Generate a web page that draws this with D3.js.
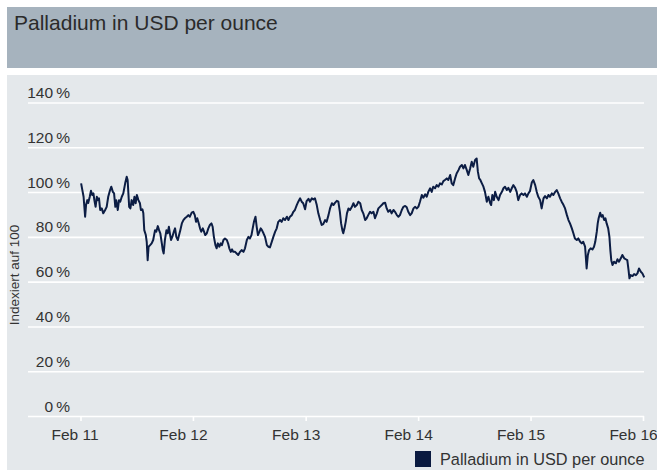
<!DOCTYPE html>
<html>
<head>
<meta charset="utf-8">
<script src="https://cdn.jsdelivr.net/npm/d3@7"></script>
<style>
  body { margin: 0; background: #fff; }
  svg { display: block; font-family: "Liberation Sans", Arial, sans-serif; }
</style>
</head>
<body>
<script>
// Palladium, indexed to 100 (Feb 2011 = 100)
var title = "Palladium in USD per ounce";
var seriesName = "Palladium in USD per ounce";
var yTitle = "Indexiert auf 100";

var yTicks = [0, 20, 40, 60, 80, 100, 120, 140];
var xTickYears = [2011, 2012, 2013, 2014, 2015, 2016];

// days after 1 Feb 2011
var days = [2,6,10,15,18,22,25,30,34,38,42,45,49,53,56,60,64,69,74,80,85,90,96,100,105,109,113,116,121,125,
  129,134,139,145,150,153,158,162,166,171,175,179,183,188,193,196,201,204,207,212,215,218,221,226,231,236,242,246,251,255,
  259,264,267,270,274,279,283,287,291,294,298,303,307,311,316,320,324,329,334,339,345,350,
  355,361,366,371,375,379,384,388,392,397,401,405,410,415,420,425,429,433,438,442,446,451,455,459,464,469,475,479,483,488,
  492,496,502,507,512,518,523,529,534,540,545,550,555,559,563,568,572,576,581,585,589,594,599,605,610,615,621,626,632,637,
  642,648,653,658,664,670,675,680,686,691,696,702,707,713,718,723,729,734,740,
  745,751,756,761,767,772,778,783,788,794,799,805,810,816,821,826,832,837,842,846,850,853,857,861,865,870,875,881,886,891,
  897,902,908,913,918,924,929,934,940,945,951,956,962,967,972,978,983,989,994,999,1005,1010,1016,1021,1027,1032,1037,1043,1048,1054,
  1059,1064,1070,1075,1081,1086,1092,1097,1102,1108,1113,
  1119,1124,1129,1135,1140,1145,1151,1156,1162,1167,1173,1178,1183,1189,1194,1200,1205,1210,1216,1221,1227,1232,1238,1243,1248,1254,
  1259,1265,1270,1275,1281,1286,1290,1294,1298,1303,1308,1313,1319,1324,1330,1333,1337,1342,1346,1351,1357,1362,1368,1373,
  1378,1384,1389,1395,1400,1405,1411,1416,1421,1427,1432,1438,1443,1449,1454,
  1459,1465,1470,1476,1481,1486,1492,1497,1503,1508,1514,1519,1524,1530,1535,1541,1546,1551,1557,1562,1568,1573,1579,1584,1589,
  1595,1600,1605,1611,1616,1622,1627,1632,1638,1643,1647,1651,1656,1662,1667,1671,1676,1679,1682,1687,1691,1695,1700,1704,1708,
  1713,1717,1720,1723,1727,1732,1738,1743,1748,1754,1759,1765,1770,1775,1779,1782,1786,1792,1797,1803,1808,1813,1819,1824,1830];

var values = [103.9,100.9,97.9,89.0,94.2,96.4,95.1,97.9,100.6,98.7,99.4,96.4,93.4,97.9,96.4,97.2,92.0,92.7,90.5,92.0,
  93.4,97.9,100.9,102.4,100.1,99.4,93.4,96.4,92.0,96.4,95.7,97.9,99.4,103.9,106.8,105.4,93.4,92.7,96.4,94.2,
  97.9,95.0,98.7,96.4,95.0,92.0,92.3,90.5,83.0,80.8,77.8,69.6,75.6,76.3,77.1,78.6,83.0,82.3,84.8,83.0,
  81.6,77.1,74.1,72.6,78.6,83.0,81.6,84.5,80.8,78.6,80.0,82.3,83.8,80.0,78.6,80.8,83.0,86.0,87.5,88.3,89.0,89.7,
  89.0,90.8,91.2,89.7,86.7,88.3,86.0,83.8,82.3,83.8,82.3,80.8,81.6,83.8,85.3,86.0,84.5,80.0,76.3,74.9,
  77.1,75.6,77.1,76.3,78.6,79.3,78.6,77.1,74.9,73.3,74.4,73.3,73.3,72.6,71.9,73.3,74.1,73.3,74.9,78.6,
  80.0,79.3,80.8,83.8,86.7,89.0,84.5,80.8,82.3,83.8,83.0,81.6,80.0,76.3,75.6,75.3,77.8,80.0,82.3,83.8,
  86.7,87.5,86.7,88.3,87.5,89.0,87.5,89.0,89.7,91.2,92.0,94.2,95.7,97.2,95.7,95.0,92.3,96.0,97.0,
  95.7,97.2,96.7,97.2,94.2,90.5,87.5,85.3,85.7,87.5,86.7,89.7,92.7,95.0,94.2,95.2,96.1,95.7,91.2,86.0,
  83.0,81.6,83.8,86.7,90.5,92.7,92.0,93.4,95.0,93.4,94.2,95.7,95.0,92.0,90.5,87.5,88.3,89.7,91.2,90.5,
  91.2,88.3,90.5,92.7,93.4,94.2,95.0,95.2,92.7,91.2,92.0,90.5,92.0,91.2,89.7,89.0,89.7,92.0,93.4,93.8,
  93.2,91.2,89.7,90.5,92.7,93.4,92.7,93.5,95.7,98.7,97.5,
  99.0,97.9,100.1,101.7,100.1,102.4,101.7,103.1,102.4,103.9,103.4,104.9,105.4,106.1,105.4,107.6,103.9,103.1,106.1,108.3,
  109.8,111.3,112.1,110.6,112.1,109.8,107.6,110.6,113.5,111.3,114.3,115.0,109.1,106.1,105.4,103.9,102.4,100.1,95.7,97.9,
  95.0,94.2,98.7,96.4,100.1,97.9,96.4,98.7,100.1,101.7,102.4,100.9,101.9,100.1,101.7,103.1,101.9,100.1,96.4,98.7,
  99.4,98.7,99.4,97.9,99.4,
  100.4,104.3,105.4,103.1,100.1,97.9,96.4,92.7,97.2,98.2,97.2,98.7,97.9,99.4,98.7,100.1,100.9,99.4,97.2,95.7,
  94.2,92.7,89.7,87.5,86.0,83.8,81.6,79.3,78.6,79.3,77.8,77.1,77.8,75.6,65.9,71.9,74.1,74.9,74.4,75.6,
  77.8,82.3,86.0,88.3,90.8,89.0,89.7,87.5,88.3,86.0,83.8,80.0,74.1,69.6,67.4,68.9,68.2,70.0,68.9,70.4,
  71.9,70.4,70.0,69.6,65.2,61.5,62.9,62.5,63.4,62.9,63.7,65.9,64.4,63.7,61.9];

var width = 657, height = 470;
var start = new Date(2011, 1, 1);

var data = days.map(function(d, i) {
  return { date: d3.timeDay.offset(start, d), value: values[i] };
});

var x = d3.scaleTime()
    .domain([start, new Date(2016, 1, 1)])
    .range([80.5, 643]);

var y = d3.scaleLinear()
    .domain([0, 140])
    .range([416, 102.5]);

var svg = d3.select("body").append("svg")
    .attr("width", width)
    .attr("height", height);

// title band and chart panel
svg.append("rect").attr("x", 7).attr("y", 7).attr("width", width - 7).attr("height", 61).attr("fill", "#a6b3be");
svg.append("rect").attr("x", 7).attr("y", 75).attr("width", width - 7).attr("height", height - 75).attr("fill", "#e4e8eb");

svg.append("text")
    .attr("x", 14).attr("y", 30)
    .attr("font-size", 21)
    .attr("fill", "#2b2b2b")
    .text(title);

// y axis with gridlines
var yAxis = d3.axisLeft(y)
    .tickValues(yTicks)
    .tickSize(-(644 - 28))
    .tickFormat(function(d) { return d + "\u2009%"; });

var gy = svg.append("g")
    .attr("transform", "translate(28,0)")
    .call(yAxis);
gy.select(".domain").remove();
gy.selectAll(".tick line").attr("stroke", "#fff").attr("stroke-width", 1.6);
gy.selectAll(".tick text")
    .attr("x", 42).attr("dy", -5)
    .attr("text-anchor", "end")
    .attr("font-size", 15.5)
    .attr("font-family", "Liberation Sans, Arial, sans-serif")
    .attr("fill", "#333");

// x axis
var xAxis = d3.axisBottom(x)
    .tickValues(xTickYears.map(function(yr) { return new Date(yr, 1, 1); }))
    .tickSize(5)
    .tickFormat(d3.timeFormat("Feb %y"));

var gx = svg.append("g")
    .attr("transform", "translate(0,416)")
    .call(xAxis);
gx.select(".domain").remove();
gx.selectAll(".tick line").attr("stroke", "#fff").attr("stroke-width", 1.6);
gx.selectAll(".tick text")
    .attr("y", 24).attr("dy", 0)
    .attr("dx", function(d, i) { return i == 0 ? -6 : -10; })
    .attr("font-size", 15.5)
    .attr("font-family", "Liberation Sans, Arial, sans-serif")
    .attr("fill", "#333");

// y title
svg.append("text")
    .attr("transform", "translate(19,275) rotate(-90)")
    .attr("text-anchor", "middle")
    .attr("font-size", 13.5)
    .attr("fill", "#333")
    .text(yTitle);

// the line
var line = d3.line()
    .x(function(d) { return x(d.date); })
    .y(function(d) { return y(d.value); });

svg.append("path")
    .datum(data)
    .attr("d", line)
    .attr("fill", "none")
    .attr("stroke", "#0c1d44")
    .attr("stroke-width", 2)
    .attr("stroke-linejoin", "round");

// legend
svg.append("rect")
    .attr("x", 415).attr("y", 451)
    .attr("width", 16).attr("height", 16)
    .attr("fill", "#0a1a40");
svg.append("text")
    .attr("x", 440).attr("y", 465)
    .attr("font-size", 16.3)
    .attr("fill", "#333")
    .text(seriesName);
</script>
</body>
</html>
